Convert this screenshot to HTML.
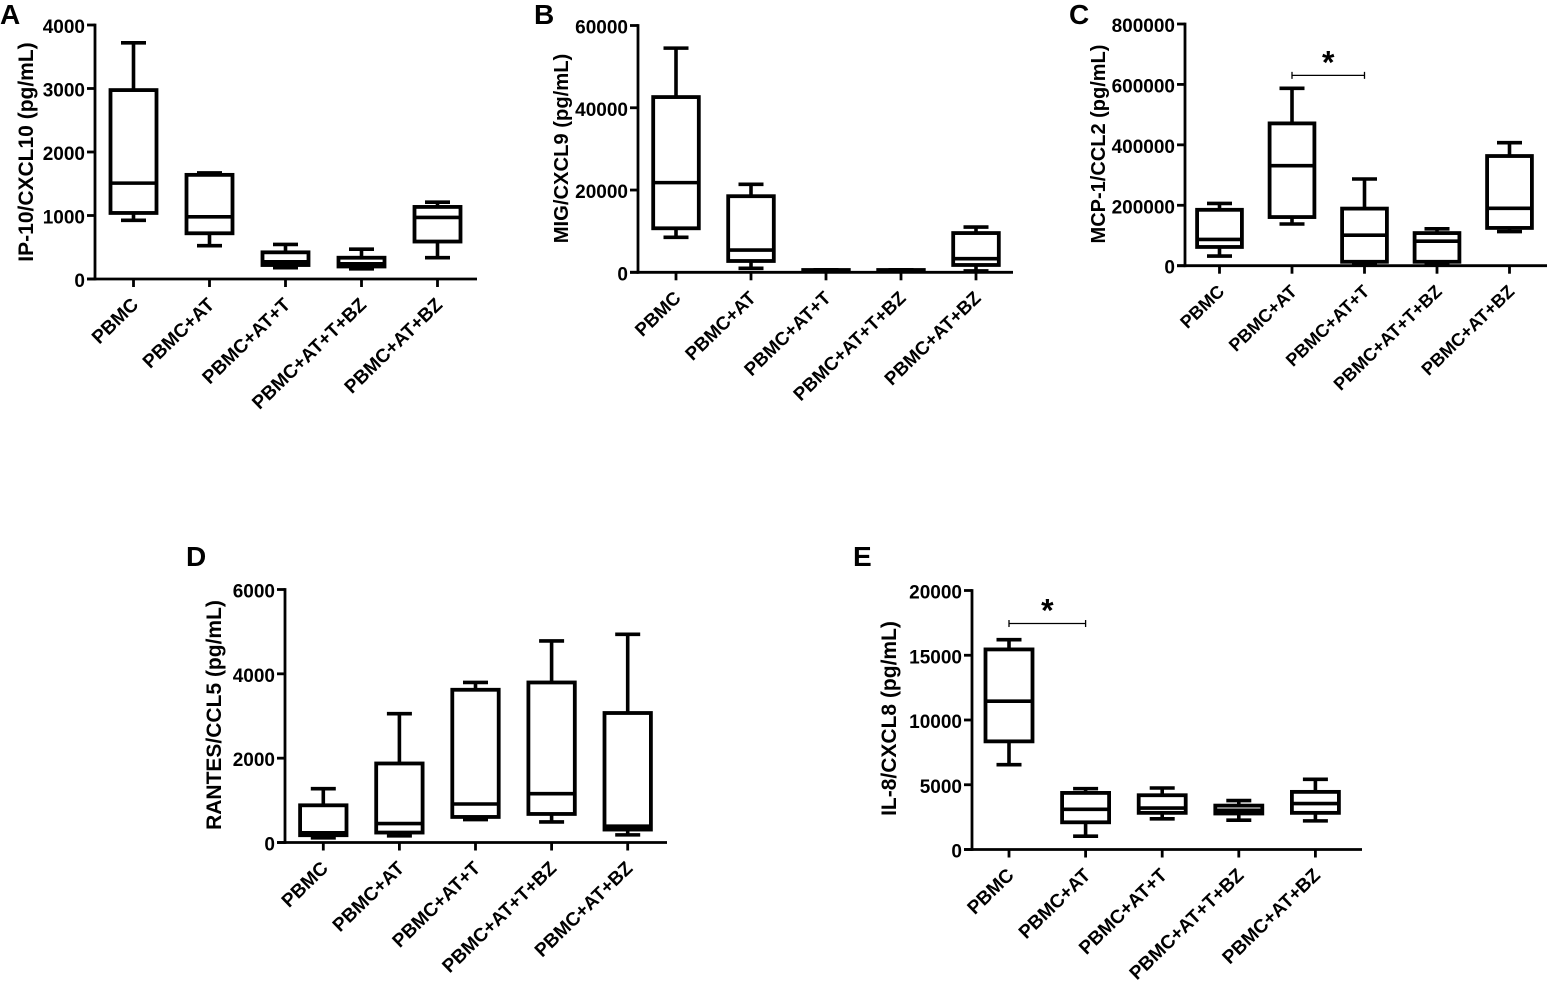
<!DOCTYPE html>
<html lang="en">
<head>
<meta charset="utf-8">
<title>Chemokine box plots</title>
<style>
html,body{margin:0;padding:0;background:#fff;width:1550px;height:987px;overflow:hidden}
svg{display:block}
text{font-family:"Liberation Sans",Arial,sans-serif;font-weight:700;fill:#000}
.letter{font-size:28px}
.ytitle{font-size:21px;text-anchor:middle}
.tick{font-size:19px;text-anchor:end}
.cat{text-anchor:end}
.star{font-size:32px;text-anchor:middle}
</style>
</head>
<body>
<svg id="figure" xmlns="http://www.w3.org/2000/svg" width="1550" height="987" viewBox="0 0 1550 987">
  <rect x="0" y="0" width="1550" height="987" fill="#fff"/>
  <g id="panel-a">
    <text class="letter" x="0" y="24">A</text>
    <text class="ytitle" transform="translate(33 152) rotate(-90)">IP-10/CXCL10 (pg/mL)</text>
  </g>
  <g id="panel-b">
    <text class="letter" x="534" y="24">B</text>
    <text class="ytitle" style="font-size:20.2px" transform="translate(568 148.5) rotate(-90)">MIG/CXCL9 (pg/mL)</text>
  </g>
  <g id="panel-c">
    <text class="letter" x="1069" y="24">C</text>
    <text class="ytitle" style="font-size:20px" transform="translate(1105 144) rotate(-90)">MCP-1/CCL2 (pg/mL)</text>
  </g>
  <g id="panel-d">
    <text class="letter" x="186" y="566">D</text>
    <text class="ytitle" transform="translate(221 715) rotate(-90)">RANTES/CCL5 (pg/mL)</text>
  </g>
  <g id="panel-e">
    <text class="letter" x="853" y="566">E</text>
    <text class="ytitle" transform="translate(896 718.5) rotate(-90)">IL-8/CXCL8 (pg/mL)</text>
  </g>
</svg>
<script>
// Chart data: group names, y tick labels and [whisker high, Q3, median, Q1, whisker low] per group
const categories = ['PBMC', 'PBMC+AT', 'PBMC+AT+T', 'PBMC+AT+T+BZ', 'PBMC+AT+BZ'];

const ticksA = [0, 1000, 2000, 3000, 4000];
const statsA = [
  [3720, 2975, 1510, 1040, 925],
  [1670, 1640, 980, 720, 525],
  [545, 420, 270, 220, 178],
  [470, 335, 240, 197, 160],
  [1210, 1135, 970, 590, 335]
];

const ticksB = [0, 20000, 40000, 60000];
const statsB = [
  [54500, 42600, 21800, 10700, 8500],
  [21400, 18500, 5400, 2750, 970],
  [620, 560, 500, 440, 400],
  [620, 560, 500, 440, 400],
  [11000, 9540, 3300, 1780, 320]
];

const ticksC = [0, 200000, 400000, 600000, 800000];
const statsC = [
  [206000, 185000, 87000, 62000, 32000],
  [587000, 471000, 331000, 161000, 138000],
  [287000, 189000, 101000, 13000, 5000],
  [122000, 108000, 81000, 13000, 5000],
  [407000, 363000, 190000, 125000, 113000]
];

const ticksD = [0, 2000, 4000, 6000];
const statsD = [
  [1276, 882, 230, 173, 110],
  [3055, 1874, 449, 236, 157],
  [3795, 3622, 913, 606, 543],
  [4780, 3795, 1157, 677, 488],
  [4937, 3071, 386, 307, 181]
];

const ticksE = [0, 5000, 10000, 15000, 20000];
const statsE = [
  [16200, 15450, 11450, 8350, 6550],
  [4700, 4370, 3100, 2100, 1030],
  [4750, 4190, 3200, 2830, 2370],
  [3780, 3390, 3030, 2780, 2260],
  [5420, 4450, 3550, 2830, 2210]
];

// Significance brackets: [from group index, to group index, height as y value]
const bracketC = [1, 2, 630000];
const bracketE = [0, 1, 17450];

const SVGNS = 'http://www.w3.org/2000/svg';

function make(parent, tag, attrs, txt) {
  const el = document.createElementNS(SVGNS, tag);
  for (const k in attrs) el.setAttribute(k, attrs[k]);
  if (txt !== undefined) el.textContent = txt;
  parent.appendChild(el);
  return el;
}

function segment(parent, x1, y1, x2, y2, w) {
  return make(parent, 'line', { x1: x1, y1: y1, x2: x2, y2: y2, stroke: '#000', 'stroke-width': w });
}

function drawPanel(id, layout, ticks, stats, bracket) {
  const root = document.getElementById(id);
  const maxTick = Math.max.apply(null, ticks);
  const yScale = function (v) { return layout.y0 - (v / maxTick) * (layout.y0 - layout.yTop); };
  const xScale = function (i) { return layout.x0 + layout.step * i; };

  const axes = make(root, 'g', {});
  
  

  const yLine = segment(axes, layout.xAxis, layout.yTop - 1.4, layout.xAxis, layout.y0 + 1.4, 2.8);
  
  

  const xLine = segment(axes, layout.xAxis - 8, layout.y0, layout.xEnd, layout.y0, 2.8);
  
  

  ticks.forEach(function (t) {
    const y = yScale(t);
    const mark = segment(axes, layout.xAxis - 8, y, layout.xAxis, y, 2.8);
    
    
    const label = make(axes, 'text', { class: 'tick', x: layout.xAxis - 10, y: y + 8 }, String(t));
    
    
  });

  categories.forEach(function (name, i) {
    const x = xScale(i);
    const mark = segment(axes, x, layout.y0, x, layout.y0 + 8, 2.8);
    
    
    const label = make(axes, 'text', {
      class: 'cat',
      'font-size': layout.catSize,
      transform: 'translate(' + (x + 6) + ' ' + (layout.y0 + 27) + ') rotate(-44)'
    }, name);
    
    
  });

  stats.forEach(function (row, i) {
    const x = xScale(i);
    const hi = yScale(row[0]), q3 = yScale(row[1]), med = yScale(row[2]), q1 = yScale(row[3]), lo = yScale(row[4]);
    const half = layout.half;
    const g = make(root, 'g', {});
    
    

    const upper = segment(g, x, hi, x, q3, 3.6);
    
    
    const capHi = segment(g, x - 12.5, hi, x + 12.5, hi, 3.6);
    
    
    const lower = segment(g, x, q1, x, lo, 3.6);
    
    
    const capLo = segment(g, x - 12.5, lo, x + 12.5, lo, 3.6);
    
    
    const box = make(g, 'rect', {
      x: x - half, y: q3, width: half * 2, height: Math.max(q1 - q3, 0.5),
      fill: 'none', stroke: '#000', 'stroke-width': 3.8
    });
    
    
    const median = segment(g, x - half, med, x + half, med, 3.6);
    
    
  });

  if (bracket) {
    const xa = xScale(bracket[0]), xb = xScale(bracket[1]), by = yScale(bracket[2]);
    const g = make(root, 'g', {});
    
    
    const bar = segment(g, xa, by, xb, by, 1.3);
    
    
    const capA = segment(g, xa, by - 3.5, xa, by + 3.5, 1.3);
    
    
    const capB = segment(g, xb, by - 3.5, xb, by + 3.5, 1.3);
    
    
    const star = make(g, 'text', { class: 'star', x: (xa + xb) / 2, y: by - 2 }, '*');
    
    
  }
}

drawPanel('panel-a', { xAxis: 95, xEnd: 477, yTop: 25, y0: 279, x0: 133.5, step: 76, half: 23, catSize: 19 }, ticksA, statsA, null);
drawPanel('panel-b', { xAxis: 638, xEnd: 1013, yTop: 25.5, y0: 272.3, x0: 676, step: 75, half: 22.8, catSize: 18.7 }, ticksB, statsB, null);
drawPanel('panel-c', { xAxis: 1185, xEnd: 1547, yTop: 24, y0: 265.7, x0: 1219.5, step: 72.5, half: 22.4, catSize: 18 }, ticksC, statsC, bracketC);
drawPanel('panel-d', { xAxis: 285, xEnd: 667, yTop: 589.5, y0: 842.5, x0: 323.3, step: 76.1, half: 23.2, catSize: 19 }, ticksD, statsD, null);
drawPanel('panel-e', { xAxis: 972, xEnd: 1362, yTop: 590.5, y0: 849.5, x0: 1009, step: 76.6, half: 23.5, catSize: 19 }, ticksE, statsE, bracketE);
</script>
</body>
</html>
